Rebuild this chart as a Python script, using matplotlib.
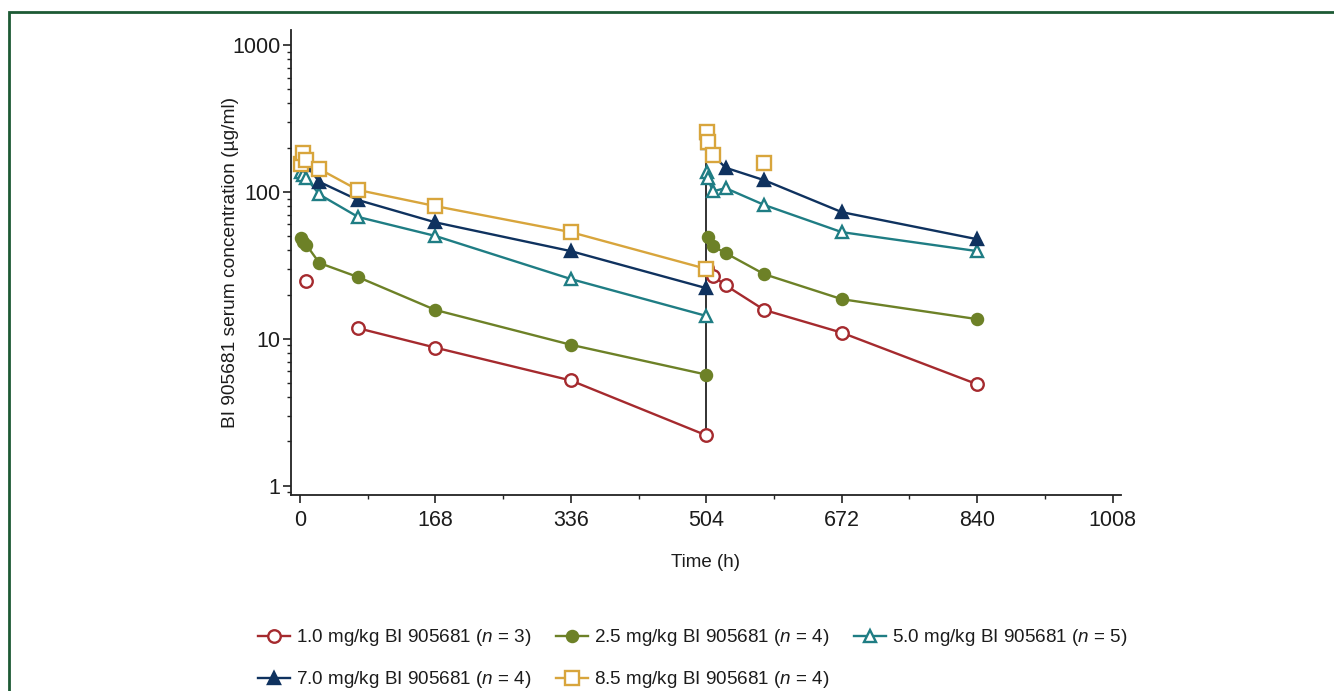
import numpy as np
import matplotlib
matplotlib.use("Agg")
from matplotlib import pyplot as plt
from matplotlib.ticker import FixedLocator, LogLocator, NullFormatter, FuncFormatter
from matplotlib.patches import Rectangle

nan = np.nan

# first dose (0-504 h)
t_dose1 = [1, 4, 8, 24, 72, 168, 336, 504]
red_d1 = [nan, nan, 24.7, nan, 11.8, 8.7, 5.2, 2.2]
green_d1 = [48.6, 45.7, 43.5, 32.8, 26.3, 15.7, 9.1, 5.7]
teal_d1 = [136, 131, 124, 96, 67.5, 50.1, 25.5, 14.3]
navy_d1 = [168, 160, 152, 117, 88, 62, 39.5, 22.1]
gold_d1 = [155, 184, 165, 143, 103, 80, 53.2, 29.9]

# second dose (after 504 h)
red_t2 = [505, 512, 528, 576, 672, 840]
red_d2 = [30.3, 26.8, 23.1, 15.7, 11.0, 4.9]
green_t2 = [506, 512, 528, 576, 672, 840]
green_d2 = [49.2, 42.7, 38.3, 27.5, 18.6, 13.6]
teal_t2 = [505, 506, 512, 528, 576, 672, 840]
teal_d2 = [136, 124, 101, 106, 81.4, 53.2, 39.5]
navy_t2 = [505, 506, 512, 528, 576, 672, 840]
navy_d2 = [251, 215, 178, 146, 120, 72.8, 47.6]
gold_t2 = [505, 506, 512, 528, 576]
gold_d2 = [256, 219, 178, nan, 157]

# second infusion marker
redose_time = 504
redose_span = [2.2, 165]

labels = ["1.0 mg/kg BI 905681 ($n$ = 3)",
          "2.5 mg/kg BI 905681 ($n$ = 4)",
          "5.0 mg/kg BI 905681 ($n$ = 5)",
          "7.0 mg/kg BI 905681 ($n$ = 4)",
          "8.5 mg/kg BI 905681 ($n$ = 4)"]
x_ticks = [0, 168, 336, 504, 672, 840, 1008]
y_ticks = [1, 10, 100, 1000]

plt.rcParams['font.family'] = ['Liberation Sans', 'DejaVu Sans']
plt.rcParams['mathtext.fontset'] = 'custom'
plt.rcParams['mathtext.it'] = 'Liberation Sans:italic'
plt.rcParams['mathtext.rm'] = 'Liberation Sans'

txt = '#1c1c1c'
series = [
    (t_dose1, red_d1, red_t2, red_d2, '#a52a2e', 'o', 'none', 9),
    (t_dose1, green_d1, green_t2, green_d2, '#6d8127', 'o', 'full', 8),
    (t_dose1, teal_d1, teal_t2, teal_d2, '#1f7d84', '^', 'none', 9),
    (t_dose1, navy_d1, navy_t2, navy_d2, '#0f325f', '^', 'full', 8),
    (t_dose1, gold_d1, gold_t2, gold_d2, '#d8a53c', 's', 'none', 9.5),
]

fig = plt.figure(figsize=(13.34, 6.91), dpi=100)
ax = fig.add_axes([0.2181, 0.2837, 0.8401 - 0.2181, 0.9566 - 0.2837])

ax.plot([redose_time, redose_time], redose_span, color='#222222', lw=1.3, zorder=1)

handles = []
for t1, c1, t2, c2, col, mk, fill, ms in series:
    kw = dict(color=col, marker=mk, ms=ms, lw=1.7, mew=1.7, zorder=3)
    if fill == 'none':
        kw['mfc'] = 'white'
    h, = ax.plot(t1, c1, **kw)
    ax.plot(t2, c2, **kw)
    handles.append(h)

ax.set_yscale('log')
ax.set_xlim(-11.2, 1018)
ax.set_ylim(0.864, 1265)
ax.spines['top'].set_visible(False)
ax.spines['right'].set_visible(False)
for s in ['left', 'bottom']:
    ax.spines[s].set_linewidth(1.3)
    ax.spines[s].set_color('#222222')

ax.xaxis.set_major_locator(FixedLocator(x_ticks))
ax.xaxis.set_minor_locator(FixedLocator([84 + 168 * i for i in range(6)]))
ax.yaxis.set_major_locator(FixedLocator(y_ticks))
ax.yaxis.set_minor_locator(LogLocator(base=10, subs=np.arange(2, 10)))
ax.yaxis.set_minor_formatter(NullFormatter())
ax.yaxis.set_major_formatter(FuncFormatter(lambda v, p: f"{v:g}"))
ax.tick_params(which='major', length=6, width=1.2, color='#222222',
               labelsize=15.5, labelcolor=txt, pad=1.5)
ax.tick_params(axis='x', which='major', pad=5)
ax.tick_params(which='minor', length=3, width=1.0, color='#222222')

ax.set_xlabel("Time (h)", fontsize=13.5, color=txt, labelpad=16.5)
ax.set_ylabel("BI 905681 serum concentration (µg/ml)", fontsize=13.8,
              color=txt, labelpad=-5)

order = [0, 3, 1, 4, 2]
leg = fig.legend([handles[i] for i in order], [labels[i] for i in order],
                 loc='upper left', bbox_to_anchor=(0.1935, 0.092), ncol=3,
                 frameon=False, fontsize=13.6, handlelength=1.7,
                 handletextpad=0.3, columnspacing=1.3, labelspacing=1.1,
                 borderaxespad=0, borderpad=0)
for t in leg.get_texts():
    t.set_color(txt)

border = Rectangle((9 / 1334, -0.1), 1.1, 1 - 12 / 691 + 0.1,
                   transform=fig.transFigure, fill=False,
                   edgecolor='#1d5a34', lw=2, zorder=0)
fig.patches.append(border)

fig.savefig("out.png", dpi=100)
